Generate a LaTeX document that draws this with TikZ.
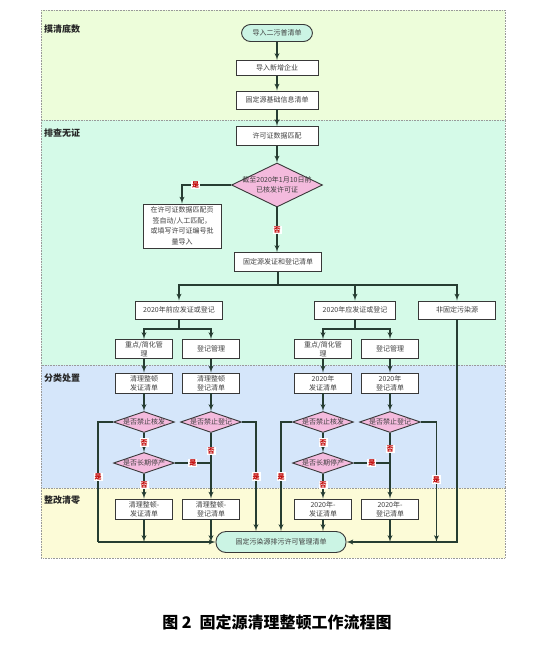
\documentclass[tikz,border=0pt]{standalone}
\usepackage{fontspec}
\setmainfont{Noto Sans CJK SC}
\usepackage{xcolor}
\usepackage{tikz}
\usetikzlibrary{shapes,arrows,positioning,calc}
\definecolor{laneone}{HTML}{EDFDDA}
\definecolor{lanetwo}{HTML}{D5FAE8}
\definecolor{lanethree}{HTML}{D5E6FA}
\definecolor{lanefour}{HTML}{FCFBD7}
\definecolor{flowline}{HTML}{263D32}
\definecolor{boxline}{HTML}{383838}
\definecolor{termfill}{HTML}{CBF4E4}
\definecolor{askfill}{HTML}{F4BADD}
\definecolor{yesno}{HTML}{C00000}
\tikzstyle{lane} = [draw=gray!80, densely dotted, line width=0.6pt]
\tikzstyle{lanetitle} = [anchor=west, inner sep=0pt, text=black!85, font=\fontsize{9}{10}\selectfont\bfseries]
\tikzstyle{block} = [rectangle, draw=boxline, fill=white, line width=0.9pt, align=center, inner sep=1pt, text=black!75, minimum width=82pt, minimum height=18pt, font=\fontsize{7}{9}\selectfont]
\tikzstyle{cell} = [block, minimum width=57pt, minimum height=20pt]
\tikzstyle{terminal} = [block, rounded corners=9pt, fill=termfill, minimum height=17pt]
\tikzstyle{ask} = [diamond, draw=boxline, fill=askfill, line width=0.9pt, inner sep=0pt, text=black!75, minimum width=61pt, minimum height=21pt, font=\fontsize{7}{9}\selectfont]
\tikzstyle{line} = [draw=flowline, -latex', line width=1.3pt]
\tikzstyle{joint} = [draw=flowline, line width=1.3pt]
\tikzstyle{yes} = [fill=white, text=yesno, inner sep=1pt, font=\fontsize{7}{7}\selectfont\bfseries]

\begin{document}
\begin{tikzpicture}[x=1pt, y=-1pt]
        \useasboundingbox (0,0) rectangle (534,646);
        % Lanes
        \path [lane, fill=laneone] (41,10) rectangle (505,120);
        \path [lane, fill=lanetwo] (41,120) rectangle (505,365);
        \path [lane, fill=lanethree] (41,365) rectangle (505,488);
        \path [lane, fill=lanefour] (41,488) rectangle (505,558);
        \node [lanetitle] (laneA) at (44,29) {摸清底数};
        \node [lanetitle] (laneB) at (44,133) {排查无证};
        \node [lanetitle] (laneC) at (44,378) {分类处置};
        \node [lanetitle] (laneD) at (44,500) {整改清零};

        % Nodes
        \node [terminal, minimum width=71pt] (start) at (277,33) {导入二污普清单};
        \node [block, minimum height=15pt] (imp) at (277,68) {导入新增企业};
        \node [block] (base) at (277,100) {固定源基础信息清单};
        \node [block, minimum height=19pt] (match) at (277,136) {许可证数据匹配};
        \node [ask, minimum width=91pt, minimum height=44pt] (q1) at (277,185) {\makebox[0pt]{\shortstack{截至2020年1月10日前\\已核发许可证}}};
        \node [block, minimum width=78pt, minimum height=44pt, font=\fontsize{7}{10.5}\selectfont] (note) at (182,226) {在许可证数据匹配页\\签自动/人工匹配，\\或填写许可证编号批\\量导入};
        \node [block, minimum width=87pt, minimum height=19pt] (list) at (278,262) {固定源发证和登记清单};
        \coordinate (split) at (278,285);
        \node [block, minimum width=87pt] (pre) at (179,310) {2020年前应发证或登记};
        \node [block, minimum width=81pt] (cur) at (355,310) {2020年应发证或登记};
        \node [block, minimum width=77pt] (nonfix) at (457,310) {非固定污染源};
        \coordinate (splitpre) at (179,329);
        \coordinate (splitcur) at (355,329);
        \node [cell, minimum height=19pt] (preA) at (144,349) {重点/简化管\\理};
        \node [cell, minimum height=19pt] (preB) at (211,349) {登记管理};
        \node [cell, minimum height=19pt] (curA) at (323,349) {重点/简化管\\理};
        \node [cell, minimum height=19pt] (curB) at (390,349) {登记管理};
        \node [cell] (cleanA) at (144,383) {清理整顿\\发证清单};
        \node [cell] (cleanB) at (211,383) {清理整顿\\登记清单};
        \node [cell] (cleanC) at (323,383) {2020年\\发证清单};
        \node [cell] (cleanD) at (390,383) {2020年\\登记清单};
        \node [ask] (qA1) at (144,422) {\makebox[0pt]{是否禁止核发}};
        \node [ask] (qB1) at (211,422) {\makebox[0pt]{是否禁止登记}};
        \node [ask] (qC1) at (323,422) {\makebox[0pt]{是否禁止核发}};
        \node [ask] (qD1) at (390,422) {\makebox[0pt]{是否禁止登记}};
        \node [ask] (qA2) at (144,463) {\makebox[0pt]{是否长期停产}};
        \node [ask] (qC2) at (323,463) {\makebox[0pt]{是否长期停产}};
        \node [cell] (finA) at (144,509) {清理整顿-\\发证清单};
        \node [cell] (finB) at (211,509) {清理整顿-\\登记清单};
        \node [cell] (finC) at (323,509) {2020年-\\发证清单};
        \node [cell] (finD) at (390,509) {2020年-\\登记清单};
        \node [terminal, minimum width=130pt, minimum height=21pt, rounded corners=10pt] (term) at (281,542) {固定污染源排污许可管理清单};
        \coordinate (mergeA) at (98,542);
        \node [font=\fontsize{16}{18}\selectfont\bfseries] (caption) at (277,622) {图 2\enspace 固定源清理整顿工作流程图};

        % Paths
        \path [line] (start) -- (imp);
        \path [line] (imp) -- (base);
        \path [line] (base) -- (match);
        \path [line] (match) -- (q1);
        \path [line] (q1.west) -| node [yes, pos=0.36] {是} (note.north);
        \path [line] (q1.south) -- node [yes] {否} (q1.south |- list.north);
        \path [joint] (list.south) -- (split);
        \path [line] (split) -| (pre.north);
        \path [line] (split) -| (cur.north);
        \path [line] (split) -| (nonfix.north);
        \path [joint] (pre.south) -- (splitpre);
        \path [line] (splitpre) -| (preA.north);
        \path [line] (splitpre) -| (preB.north);
        \path [joint] (cur.south) -- (splitcur);
        \path [line] (splitcur) -| (curA.north);
        \path [line] (splitcur) -| (curB.north);
        \path [line] (preA) -- (cleanA);
        \path [line] (preB) -- (cleanB);
        \path [line] (curA) -- (cleanC);
        \path [line] (curB) -- (cleanD);
        \path [line] (cleanA) -- (qA1);
        \path [line] (cleanB) -- (qB1);
        \path [line] (cleanC) -- (qC1);
        \path [line] (cleanD) -- (qD1);

        % Left block
        \path [line] (qA1.south) -- node [yes] {否} (qA2.north);
        \path [line] (qA2.south) -- node [yes, pos=0.45] {否} (finA.north);
        \path [joint] (qA2.east) -- node [yes] {是} (qA2.east -| qB1.south);
        \path [line] (qB1.south) -- node [yes, pos=0.27] {否} (finB.north);
        \path [joint] (qA1.west) -| node [yes, pos=0.73] {是} (mergeA);
        \path [line] (mergeA) -- (term.west);
        \path [line] (finA.south) -- (finA.south |- term.west);
        \path [line] (finB.south) -- (finB.south |- term.west);
        \path [line] (qB1.east) -| node [yes, pos=0.75] {是} ([xshift=-25pt]term.north);

        % Right block
        \path [line] (qC1.west) -| node [yes, pos=0.75] {是} (term.north);
        \path [line] (qC1.south) -- node [yes] {否} (qC2.north);
        \path [joint] (qC2.east) -- node [yes] {是} (qC2.east -| qD1.south);
        \path [line] (qC2.south) -- node [yes, pos=0.45] {否} (finC.north);
        \path [line] (qD1.south) -- node [yes, pos=0.24] {否} (finD.north);
        \path [line] (qD1.east) -| node [yes, pos=0.74] {是} ([xshift=90pt]term.east);
        \path [line] (finC.south) -- (finC.south |- term.north);
        \path [line] (finD.south) -- (finD.south |- term.east);
        \path [line] (nonfix.south) |- (term.east);
    \end{tikzpicture}
\end{document}
